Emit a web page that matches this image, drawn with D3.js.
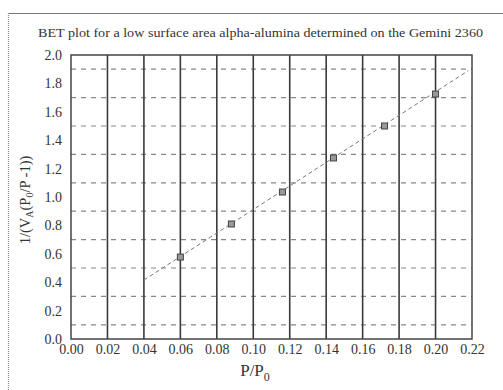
<!DOCTYPE html>
<html>
<head>
<meta charset="utf-8">
<script src="https://cdn.jsdelivr.net/npm/d3@7"></script>
<style>
  html, body { margin: 0; padding: 0; background: #fff; }
  svg { display: block; }
  svg text { font-family: "Liberation Serif", "DejaVu Serif", serif !important; fill: #333; }
</style>
</head>
<body>
<svg id="chart" width="503" height="390"></svg>
<script>
// ---- data ----
const titleText = "BET plot for a low surface area alpha-alumina determined on the Gemini 2360";
const pointX = [0.060, 0.088, 0.116, 0.144, 0.172, 0.200];
const pointY = [0.577, 0.810, 1.035, 1.275, 1.500, 1.725];
const fitX = [0.040, 0.218];
const fitY = [0.415, 1.890];
const xTicks = [0.00, 0.02, 0.04, 0.06, 0.08, 0.10, 0.12, 0.14, 0.16, 0.18, 0.20, 0.22];
const yTicks = [0.0, 0.2, 0.4, 0.6, 0.8, 1.0, 1.2, 1.4, 1.6, 1.8, 2.0];
const yMinorGrid = [0.1, 0.3, 0.5, 0.7, 0.9, 1.1, 1.3, 1.5, 1.7, 1.9];

// ---- layout ----
const svg = d3.select("#chart");
const L = 71, R = 472, T = 55, B = 339;
const x = d3.scaleLinear().domain([0, 0.22]).range([L, R]);
const y = d3.scaleLinear().domain([0, 2.0]).range([B, T]);

// outer frame
svg.append("line").attr("x1", 8).attr("x2", 503).attr("y1", 13.5).attr("y2", 13.5)
  .attr("stroke", "#777").attr("stroke-width", 1);
svg.append("line").attr("x1", 8.5).attr("x2", 8.5).attr("y1", 13).attr("y2", 390)
  .attr("stroke", "#888").attr("stroke-width", 1.2).attr("stroke-dasharray", "1,1");

// title
svg.append("text").attr("x", 38).attr("y", 37)
  .attr("font-size", 13).attr("textLength", 445).attr("lengthAdjust", "spacingAndGlyphs")
  .text(titleText);

// horizontal dashed grid
svg.append("g").selectAll("line").data(yMinorGrid).join("line")
  .attr("x1", L).attr("x2", R)
  .attr("y1", d => y(d)).attr("y2", d => y(d))
  .attr("stroke", "#888").attr("stroke-width", 1.2).attr("stroke-dasharray", "5,5");

// vertical solid grid
svg.append("g").selectAll("line").data(xTicks.slice(1, -1)).join("line")
  .attr("x1", d => x(d)).attr("x2", d => x(d))
  .attr("y1", T).attr("y2", B)
  .attr("stroke", "#3a3a3a").attr("stroke-width", 1.6);

// plot border
svg.append("rect").attr("x", L).attr("y", T).attr("width", R - L).attr("height", B - T)
  .attr("fill", "none").attr("stroke", "#444").attr("stroke-width", 1.5);

// axes
const xAxis = d3.axisBottom(x).tickValues(xTicks).tickSize(0).tickPadding(5)
  .tickFormat(d3.format(".2f"));
const gx = svg.append("g").attr("transform", `translate(0,${B})`).call(xAxis);
gx.select(".domain").remove();
gx.attr("font-family", null);
gx.selectAll("text").attr("font-size", 14).attr("fill", "#333");

const yAxis = d3.axisLeft(y).tickValues(yTicks).tickSize(0).tickPadding(9)
  .tickFormat(d3.format(".1f"));
const gy = svg.append("g").attr("transform", `translate(${L},0)`).call(yAxis);
gy.select(".domain").remove();
gy.attr("font-family", null);
gy.selectAll("text").attr("font-size", 14).attr("fill", "#333");

// fit line
svg.append("path")
  .datum(fitX.map((d, i) => [d, fitY[i]]))
  .attr("d", d3.line().x(d => x(d[0])).y(d => y(d[1])))
  .attr("fill", "none").attr("stroke", "#777").attr("stroke-width", 1)
  .attr("stroke-dasharray", "4,3");

// points
svg.append("g").selectAll("rect").data(pointX.map((d, i) => [d, pointY[i]])).join("rect")
  .attr("x", d => x(d[0]) - 3).attr("y", d => y(d[1]) - 3)
  .attr("width", 6).attr("height", 6)
  .attr("fill", "#999").attr("stroke", "#444").attr("stroke-width", 1);

// y axis label
const yl = svg.append("text")
  .attr("transform", "translate(30,200) rotate(-90)")
  .attr("text-anchor", "middle").attr("font-size", 14.5);
yl.append("tspan").text("1/(V");
yl.append("tspan").attr("font-size", 10).attr("dy", 3).text("A");
yl.append("tspan").attr("dy", -3).text("(P");
yl.append("tspan").attr("font-size", 10).attr("dy", 3).text("0");
yl.append("tspan").attr("dy", -3).text("/P -1))");

// x axis label
const xl = svg.append("text").attr("x", 255).attr("y", 376)
  .attr("text-anchor", "middle").attr("font-size", 17);
xl.append("tspan").text("P/P");
xl.append("tspan").attr("font-size", 12).attr("dy", 5).text("0");
</script>
</body>
</html>
